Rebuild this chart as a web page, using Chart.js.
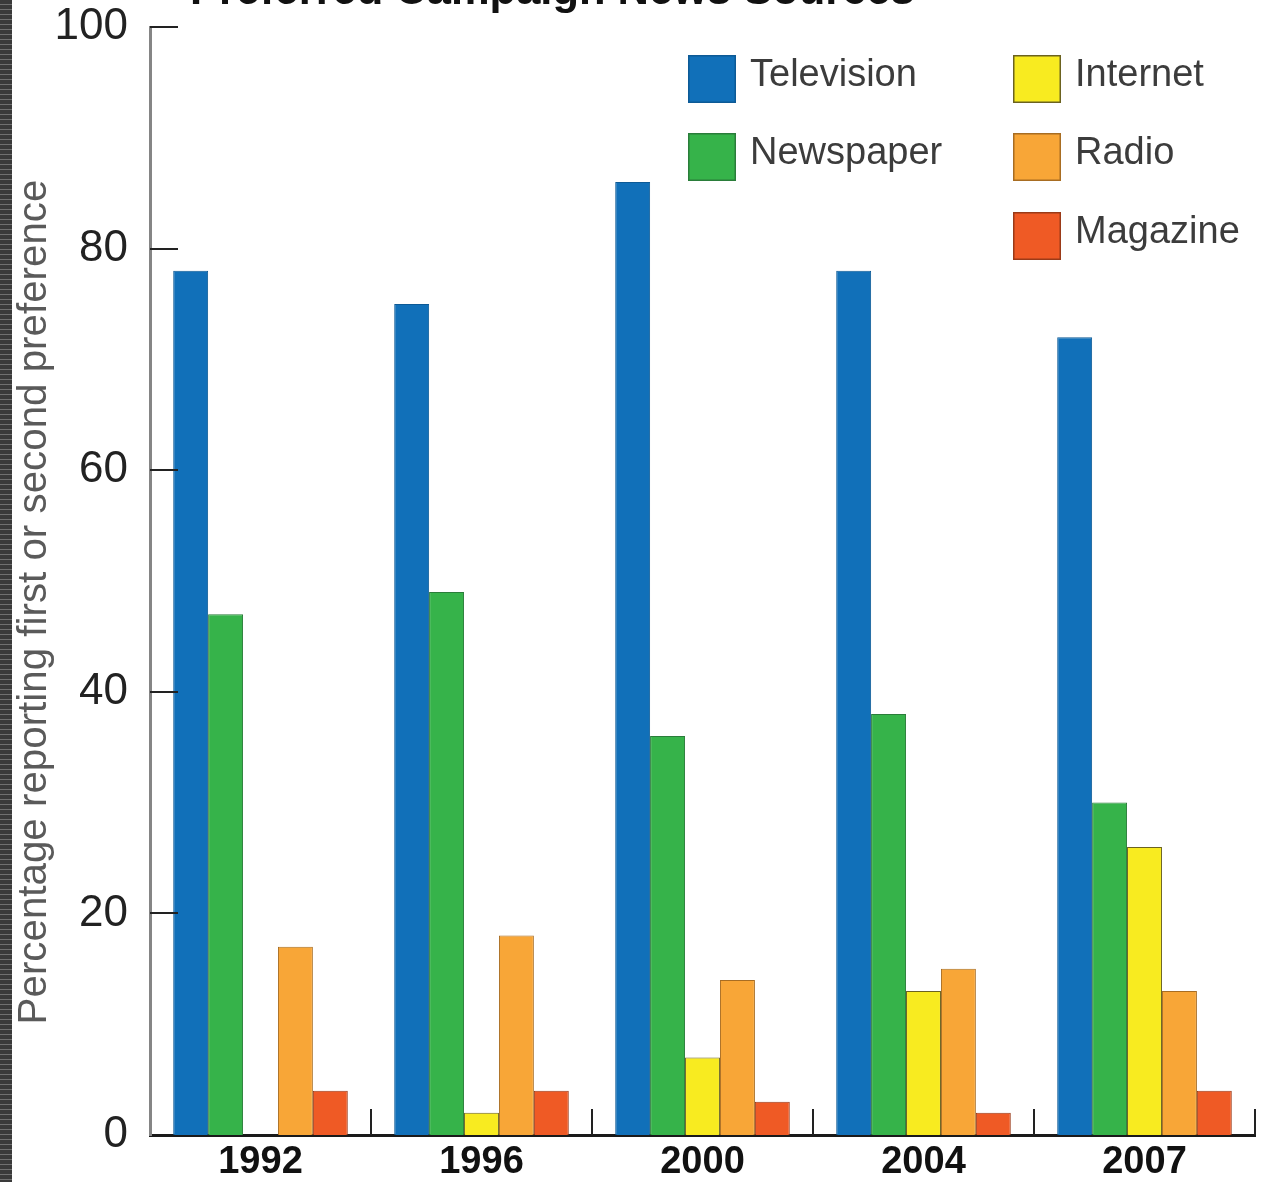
<!DOCTYPE html>
<html><head><meta charset="utf-8">
<script src="https://cdn.jsdelivr.net/npm/chart.js@4.4.0/dist/chart.umd.min.js"></script>
<style>
html,body{margin:0;padding:0;background:#fff;overflow:hidden}
#wrap{position:relative;width:1266px;height:1182px}
#strip{position:absolute;left:0;top:0;width:12px;height:1182px;background:repeating-linear-gradient(to bottom,#3a3a3a 0px,#3a3a3a 4px,#707070 4px,#707070 5px);z-index:2}
canvas{position:absolute;left:0;top:0}
</style></head><body>
<div id="wrap"><div id="strip"></div><canvas id="c" width="1266" height="1182"></canvas></div>
<script>
const categories = ['1992','1996','2000','2004','2007'];
const television = [78, 75, 86, 78, 72];
const newspaper  = [47, 49, 36, 38, 30];
const internet   = [0, 2, 7, 13, 26];
const radio      = [17, 18, 14, 15, 13];
const magazine   = [4, 4, 3, 2, 4];
const yTicks = [0, 20, 40, 60, 80, 100];
const seriesNames = ['Television', 'Newspaper', 'Internet', 'Radio', 'Magazine'];
const chartTitle = 'Preferred Campaign News Sources';
const yTitle = 'Percentage reporting first or second preference';

const fills   = ['#1170b9', '#36b34a', '#f8eb20', '#f8a637', '#ef5a25'];
const borders = ['#0d5a96', '#2a7d3a', '#6b6220', '#a86d22', '#9a3a18'];
const legendPos = [[688,55],[688,133],[1013,55],[1013,133],[1013,212]];

function fitFont(ctx, text, weight, family, target){
  ctx.font = weight + ' 40px ' + family;
  const w = ctx.measureText(text).width;
  return 40 * target / w;
}

const decor = {
  id: 'decor',
  afterDraw(chart){
    const ctx = chart.ctx, ca = chart.chartArea;
    const xs = chart.scales.x, ys = chart.scales.y;
    ctx.save();
    ctx.strokeStyle = '#222'; ctx.lineWidth = 2;
    yTicks.forEach(v => {
      if (v === 0) return;
      const y = Math.round(ys.getPixelForValue(v));
      ctx.beginPath(); ctx.moveTo(ca.left, y); ctx.lineTo(ca.left + 28, y); ctx.stroke();
    });
    const cw = (ca.right - ca.left) / categories.length;
    categories.forEach((c, i) => {
      const x = Math.round(xs.getPixelForValue(i) + cw / 2);
      ctx.beginPath(); ctx.moveTo(x, ca.bottom); ctx.lineTo(x, ca.bottom - 26); ctx.stroke();
    });
    const ts = fitFont(ctx, chartTitle, 'bold', '"Liberation Sans"', 725);
    ctx.font = 'bold ' + ts + 'px "Liberation Sans"';
    ctx.fillStyle = '#111'; ctx.textAlign = 'left'; ctx.textBaseline = 'alphabetic';
    ctx.fillText(chartTitle, 190, 4);
    const ys2 = fitFont(ctx, yTitle, 'normal', '"Liberation Sans"', 845);
    ctx.save();
    ctx.translate(35, 602); ctx.rotate(-Math.PI / 2);
    ctx.font = ys2 + 'px "Liberation Sans"';
    ctx.fillStyle = '#5a5a5a'; ctx.textAlign = 'center'; ctx.textBaseline = 'middle';
    ctx.fillText(yTitle, 0, 0);
    ctx.restore();
    chart.data.datasets.forEach((ds, i) => {
      const [bx, by] = legendPos[i];
      ctx.fillStyle = ds.backgroundColor;
      ctx.fillRect(bx, by, 48, 48);
      ctx.strokeStyle = ds.borderColor; ctx.lineWidth = 1.5;
      ctx.strokeRect(bx + 0.75, by + 0.75, 46.5, 46.5);
      ctx.font = '38px "Liberation Sans"';
      ctx.fillStyle = '#3c3c3c'; ctx.textAlign = 'left'; ctx.textBaseline = 'alphabetic';
      ctx.fillText(ds.label, bx + 62, by + 31);
    });
    ctx.restore();
  }
};

const seriesData = [television, newspaper, internet, radio, magazine];
new Chart(document.getElementById('c'), {
  type: 'bar',
  data: {
    labels: categories,
    datasets: seriesData.map((d, i) => ({
      label: seriesNames[i], data: d,
      backgroundColor: fills[i], borderColor: borders[i], borderWidth: 1,
      barPercentage: 1.0, categoryPercentage: 0.79
    }))
  },
  options: {
    responsive: false, animation: false, devicePixelRatio: 1,
    layout: { padding: { top: 27, right: 11, bottom: 0, left: 0 } },
    plugins: { legend: { display: false }, title: { display: false }, tooltip: { enabled: false } },
    scales: {
      x: {
        grid: { display: false, drawTicks: false },
        border: { display: true, color: '#1a1a1a', width: 3 },
        ticks: { font: { family: 'Liberation Sans', size: 38, weight: 'bold' }, color: '#111', padding: 5, maxRotation: 0 },
        afterFit(s) { s.height = 47; }
      },
      y: {
        min: 0, max: 100,
        afterBuildTicks(s) { s.ticks = yTicks.map(v => ({ value: v })); },
        grid: { display: false, drawTicks: false },
        border: { display: true, color: '#858585', width: 3 },
        ticks: { font: { family: 'Liberation Sans', size: 44, lineHeight: 0.2 }, color: '#222', padding: 22 },
        afterFit(s) { s.width = 150; }
      }
    }
  },
  plugins: [decor]
});
</script>
</body></html>
